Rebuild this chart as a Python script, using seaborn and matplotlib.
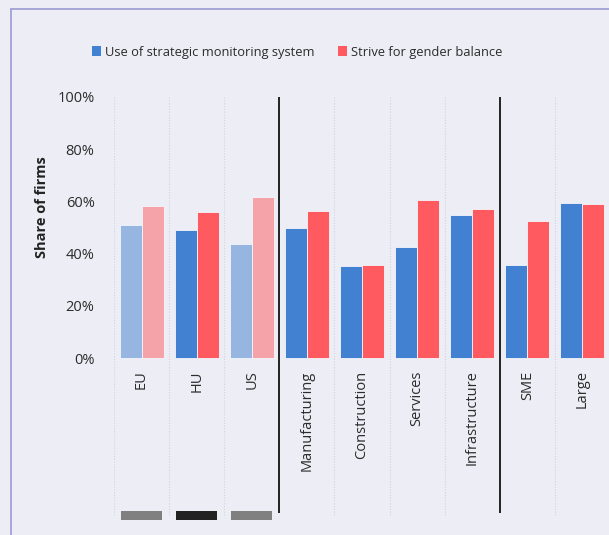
import matplotlib
matplotlib.use("Agg")
import matplotlib.pyplot as plt
from matplotlib.patches import Patch, Rectangle
import seaborn as sns
import pandas as pd

categories = ["EU", "HU", "US", "Manufacturing", "Construction", "Services",
              "Infrastructure", "SME", "Large"]
monitoring = [0.508, 0.490, 0.435, 0.497, 0.352, 0.425, 0.547, 0.356, 0.595]
gender_balance = [0.582, 0.561, 0.617, 0.563, 0.355, 0.604, 0.572, 0.526, 0.590]
series_names = ["Use of strategic monitoring system", "Strive for gender balance"]
y_ticks = [0.0, 0.2, 0.4, 0.6, 0.8, 1.0]
y_tick_labels = ["0%", "20%", "40%", "60%", "80%", "100%"]
region_markers = {"EU": "#808080", "HU": "#222222", "US": "#808080"}

BG = "#EDEDF5"
BLUE, RED = "#4281D1", "#FF5A60"
BLUE_LIGHT, RED_LIGHT = "#96B5E0", "#F5A3A9"
TEXT = "#2B2B2B"

df = pd.DataFrame({
    "category": categories * 2,
    "series": [series_names[0]] * len(categories) + [series_names[1]] * len(categories),
    "value": monitoring + gender_balance,
})

sns.set_theme(style="white")
plt.rcParams["font.family"] = ["Open Sans", "DejaVu Sans"]

fig = plt.figure(figsize=(6.09, 5.35), dpi=100, facecolor=BG)
W, H = 609, 535
y_lo, y_hi = -0.63, 1.0
px_per_unit = 261
bottom_px = 358 + (-y_lo) * px_per_unit
ax = fig.add_axes([114 / W, 1 - bottom_px / H, 496 / W, (bottom_px - 97) / H])
ax.set_facecolor(BG)

sns.barplot(data=df, x="category", y="value", hue="series", order=categories,
            hue_order=series_names, palette=[BLUE, RED], saturation=1, width=0.8,
            edgecolor="#F4F6FB", linewidth=0.6, legend=False, ax=ax)

# benchmark regions other than HU are drawn in faded tones
for i, cat in enumerate(categories):
    if cat in ("EU", "US"):
        ax.containers[0][i].set_facecolor(BLUE_LIGHT)
        ax.containers[1][i].set_facecolor(RED_LIGHT)

ax.set_xlim(-0.5, len(categories) - 0.5)
ax.set_ylim(y_lo, y_hi)

# category separators: dotted within groups, solid between groups
for k in range(len(categories)):
    xb = k - 0.5
    if k in (3, 7):
        ax.plot([xb, xb], [-0.594, 1.0], color="#222222", lw=1.4,
                solid_capstyle="butt", zorder=3)
    else:
        ax.plot([xb, xb], [-0.6, 1.0], color="#D3D3DE", lw=0.8,
                linestyle=(0, (1, 1.5)), zorder=0)

# small colour keys under the country bars
for i, cat in enumerate(categories):
    if cat in region_markers:
        ax.add_patch(Rectangle((i - 0.372, -0.621), 0.744, 0.035,
                               facecolor=region_markers[cat], edgecolor="none",
                               clip_on=False))

ax.set_yticks(y_ticks)
ax.set_yticklabels(y_tick_labels)
ax.tick_params(axis="y", length=0, pad=14, labelsize=10.5, labelcolor=TEXT)
ax.spines["bottom"].set_position(("data", 0))
ax.set_xticks(range(len(categories)))
ax.set_xticklabels(categories, rotation=90, va="top", ha="center")
ax.tick_params(axis="x", length=0, pad=9, labelsize=10.5, labelcolor=TEXT)
for s in ax.spines.values():
    s.set_visible(False)
ax.set_xlabel("")
ax.set_ylabel("Share of firms", fontsize=10.5, fontweight="bold", color="#222222",
              labelpad=0)
ax.yaxis.set_label_coords(-(114 - 48.5) / 496, (bottom_px - 207) / (bottom_px - 97))

handles = [Patch(facecolor=BLUE, edgecolor="none"), Patch(facecolor=RED, edgecolor="none")]
fig.legend(handles, series_names, loc="center", bbox_to_anchor=(297 / W, 1 - 52 / H),
           ncol=2, frameon=False, fontsize=9.3, handlelength=0.7, handleheight=0.7,
           handletextpad=0.3, columnspacing=1.8, labelcolor=TEXT)

# outer frame on the top and left edges
fig.add_artist(plt.Line2D([10.5 / W, 10.5 / W], [0, 1 - 8.5 / H], color="#9C9CD2",
                          lw=1.2, transform=fig.transFigure))
fig.add_artist(plt.Line2D([10.5 / W, 1], [1 - 8.5 / H, 1 - 8.5 / H], color="#9C9CD2",
                          lw=1.2, transform=fig.transFigure))

fig.savefig("out.png", dpi=100, facecolor=BG)
